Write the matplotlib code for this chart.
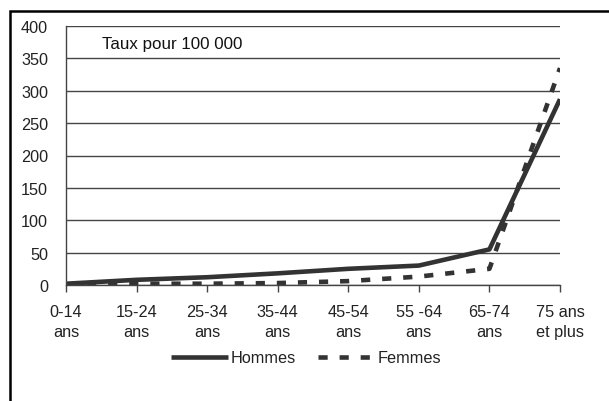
import matplotlib
matplotlib.use("Agg")
import matplotlib.pyplot as plt
from matplotlib.patches import Rectangle

plt.rcParams['font.family'] = ['Liberation Sans', 'DejaVu Sans']

categories = ["0-14\nans", "15-24\nans", "25-34\nans", "35-44\nans",
              "45-54\nans", "55 -64\nans", "65-74\nans", "75 ans\net plus"]
hommes = [2, 8, 12, 18, 25, 30, 55, 287]
femmes = [1, 2, 2, 3, 6, 13, 25, 335]
yticks = [0, 50, 100, 150, 200, 250, 300, 350, 400]

col = '#333333'
fig = plt.figure(figsize=(6.09, 4.02), dpi=100)
ax = fig.add_axes([66/609, 1-286/402, 494/609, 259/402])

x = list(range(len(categories)))
ax.plot(x, hommes, color=col, lw=3.3, label="Hommes", solid_capstyle='butt')
ax.plot(x, femmes, color=col, lw=3.3, ls=(0, (2.0, 2.6)), label="Femmes")

ax.set_xlim(0, len(categories) - 1)
ax.set_ylim(0, 400)
ax.set_yticks(yticks)
ax.set_xticks(x)
ax.set_xticklabels(categories, fontsize=11.7, color='#222222', linespacing=1.35)
ax.tick_params(axis='y', length=0, labelsize=11.7, labelcolor='#222222', pad=13)
ax.tick_params(axis='x', length=5, width=1, color='#444444', pad=9)
ax.grid(axis='y', color='#444444', lw=1)
ax.set_axisbelow(True)
for s in ['top', 'right']:
    ax.spines[s].set_visible(False)
for s in ['left', 'bottom']:
    ax.spines[s].set_color('#444444')
    ax.spines[s].set_linewidth(1)

ax.text(0.073, 0.915, "Taux pour 100 000", transform=ax.transAxes,
        fontsize=12.2, color='#111111', va='baseline')

fig.legend(loc='center', bbox_to_anchor=(306/609, 1-359/402), ncol=2,
           frameon=False, fontsize=11.7, handlelength=3.5, handletextpad=0.15,
           columnspacing=1.4, labelcolor='#222222')

# outer frame
fig.add_artist(Rectangle((10/609, -0.1), 1.2, 1.1 - 12/402, transform=fig.transFigure,
                         fill=False, ec='black', lw=1.8))

fig.savefig("out.png", dpi=100)
